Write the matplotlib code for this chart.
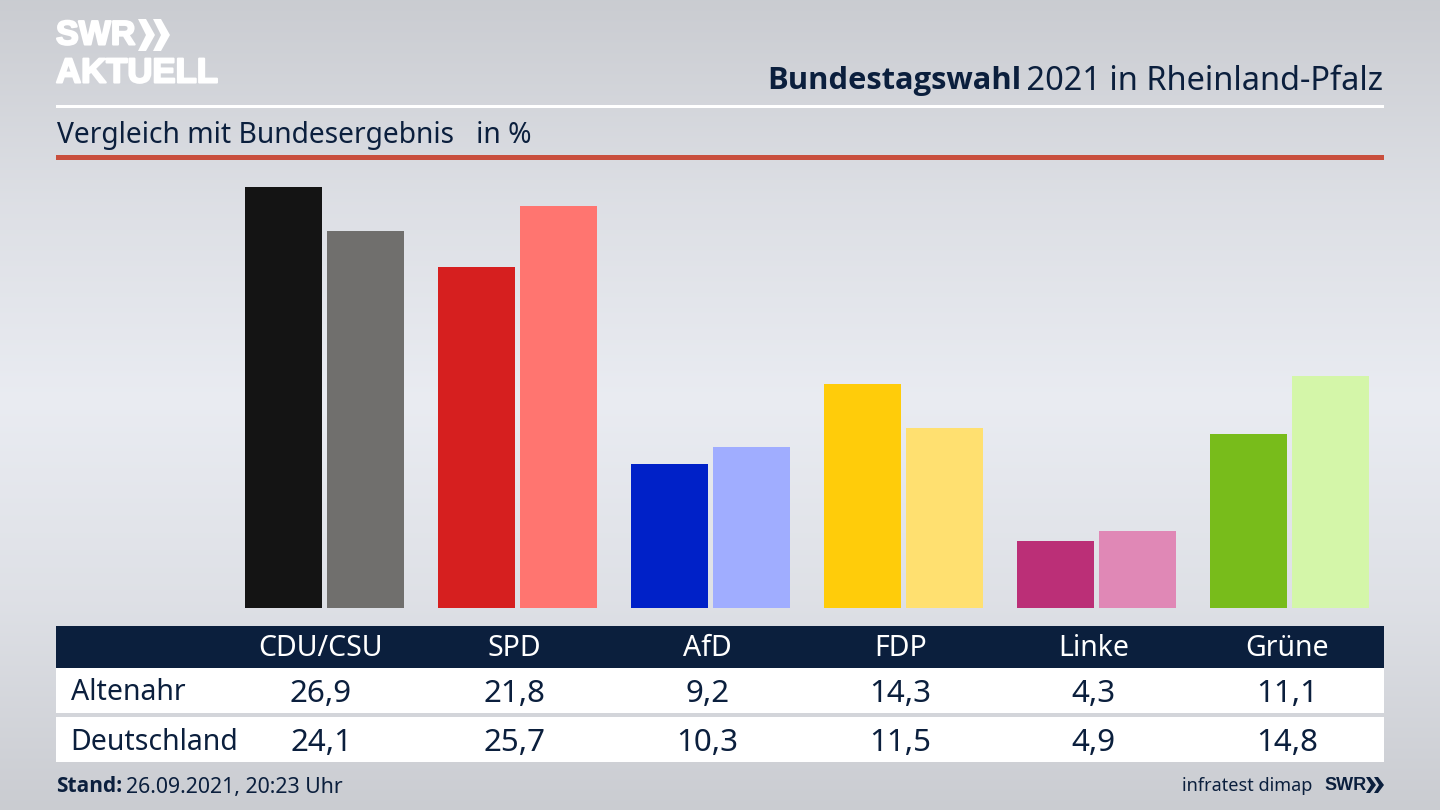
import numpy as np
import matplotlib
matplotlib.use('Agg')
import matplotlib.pyplot as plt
import matplotlib.patheffects as pe
from matplotlib.patches import Rectangle, Polygon

parties = ['CDU/CSU', 'SPD', 'AfD', 'FDP', 'Linke', 'Grüne']
altenahr = [26.9, 21.8, 9.2, 14.3, 4.3, 11.1]
deutschland = [24.1, 25.7, 10.3, 11.5, 4.9, 14.8]
colors_a = ['#141414', '#d61f1f', '#0021c8', '#ffcc0a', '#bb2f77', '#78bc1b']
colors_d = ['#706f6d', '#ff7570', '#a0adff', '#ffe070', '#e088b6', '#d4f6a9']

NAVY = '#0b1f3d'
BOLD = ['Open Sans', 'DejaVu Sans']
LOGO = ['Liberation Sans', 'DejaVu Sans']
plt.rcParams['font.family'] = ['Noto Sans', 'DejaVu Sans']

fig = plt.figure(figsize=(14.4, 8.1), dpi=100)

# pixel coordinates for everything around the bars
bg = fig.add_axes([0, 0, 1, 1])
bg.set_xlim(0, 1440)
bg.set_ylim(810, 0)
bg.axis('off')

stops_y = [0, 200, 400, 600, 810]
stops_v = [0.80, 0.875, 0.925, 0.88, 0.80]
grad = np.interp(np.arange(810), stops_y, stops_v).reshape(-1, 1)
base = np.array([0.99, 1.0, 1.025])
img = np.clip(grad[:, :, None] * base, 0, 1)
bg.imshow(img, extent=[0, 1440, 810, 0], aspect='auto', zorder=0)

# header
thick = [pe.withStroke(linewidth=1.5, foreground='white')]
bg.text(56, 36, 'SWR', color='white', fontsize=24.5, fontweight='bold', family=LOGO,
        va='center', ha='left', path_effects=thick)
for x0 in (138, 153):
    bg.add_patch(Polygon([(x0, 19), (x0 + 8, 19), (x0 + 17, 35), (x0 + 8, 51), (x0, 51), (x0 + 8, 35)],
                         color='white', lw=0, zorder=3))
bg.text(56, 73, 'AKTUELL', color='white', fontsize=25, fontweight='bold', family=LOGO,
        va='center', ha='left', path_effects=thick)

t = bg.text(1383, 81, ' 2021 in Rheinland-Pfalz', color=NAVY, fontsize=23.4, va='center', ha='right')
fig.canvas.draw()
bb = t.get_window_extent()
bg.text(bb.x0 + 3, 81, 'Bundestagswahl', color=NAVY, fontsize=22.2, fontweight='bold', family=BOLD,
        va='center', ha='right')

bg.add_patch(Rectangle((56, 104.5), 1328, 3, color='white', lw=0))
bg.text(57, 135, 'Vergleich mit Bundesergebnis   in %', color=NAVY, fontsize=20.3, va='center', ha='left')
bg.add_patch(Rectangle((56, 155), 1328, 5, color='#c94f3d', lw=0))

# bars, axes placed so one unit is 15.65 px and one group is 193 px
pitch = 193
ymax = 27.5
ax = fig.add_axes([(324.5 - pitch / 2) / 1440, (810 - 608) / 810, pitch * 6 / 1440, ymax * 15.65 / 810])
ax.patch.set_alpha(0)
ax.axis('off')
x = np.arange(len(parties))
ax.bar(x - 41 / pitch, altenahr, 77 / pitch, color=colors_a)
ax.bar(x + 41 / pitch, deutschland, 77 / pitch, color=colors_d)
ax.set_xlim(-0.5, 5.5)
ax.set_ylim(0, ymax)

# table
bg.add_patch(Rectangle((56, 626), 1328, 42, color=NAVY, lw=0))
bg.add_patch(Rectangle((56, 668), 1328, 45, color='white', lw=0))
bg.add_patch(Rectangle((56, 717), 1328, 45, color='white', lw=0))
bg.text(71, 693, 'Altenahr', color=NAVY, fontsize=20.5, va='center')
bg.text(70, 742, 'Deutschland', color=NAVY, fontsize=20.5, va='center')
for i, p in enumerate(parties):
    cx = 321 + i * 193.2
    bg.text(cx, 649, p, color='white', fontsize=20.5, va='center', ha='center')
    bg.text(cx, 694, f'{altenahr[i]:.1f}'.replace('.', ','), color=NAVY, fontsize=22.5, va='center', ha='center')
    bg.text(cx, 743, f'{deutschland[i]:.1f}'.replace('.', ','), color=NAVY, fontsize=22.5, va='center', ha='center')

# footer
bg.text(56, 787, 'Stand:', color=NAVY, fontsize=15, fontweight='bold', family=BOLD, va='center')
bg.text(126, 787, '26.09.2021, 20:23 Uhr', color=NAVY, fontsize=15.3, va='center')
bg.text(1312, 786, 'infratest dimap', color=NAVY, fontsize=13, va='center', ha='right')
bg.text(1324, 785, 'SWR', color=NAVY, fontsize=13, fontweight='bold', family=LOGO, va='center')
for x0 in (1366, 1374):
    bg.add_patch(Polygon([(x0, 777), (x0 + 4, 777), (x0 + 10, 785), (x0 + 4, 793), (x0, 793), (x0 + 5, 785)],
                         color=NAVY, lw=0, zorder=3))

fig.savefig('out.png', dpi=100)
